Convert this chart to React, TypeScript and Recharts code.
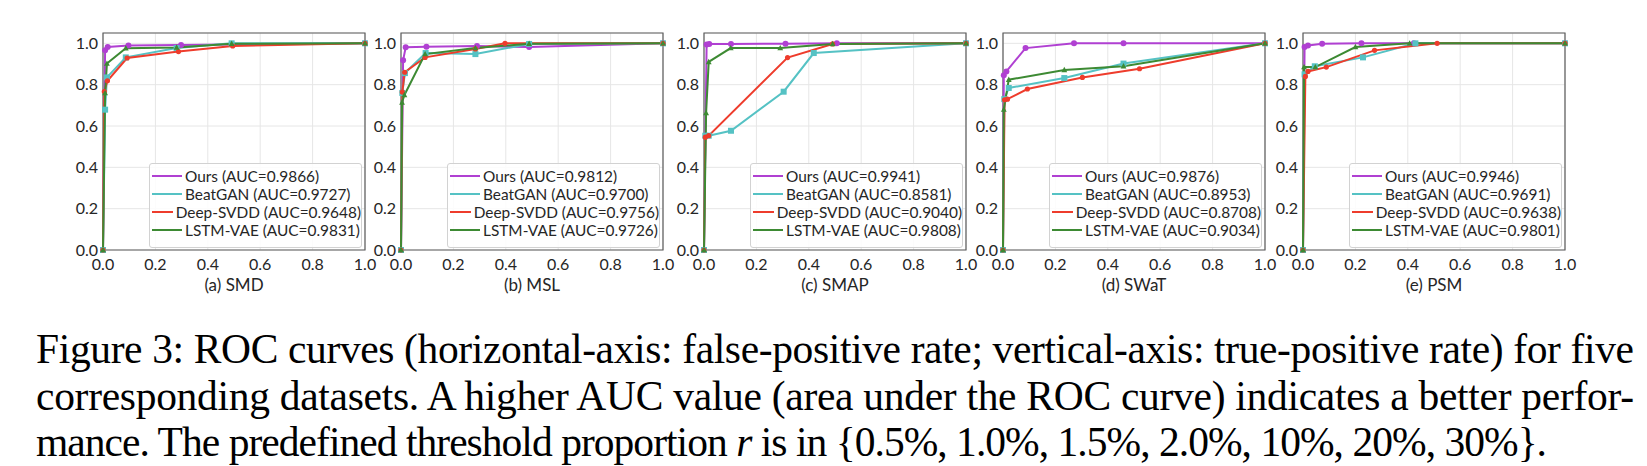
import React from 'react';
import { LineChart, Line, XAxis, YAxis, CartesianGrid, ReferenceArea, Legend } from 'recharts';

type Pt = [number, number];

const METHODS = ['Ours', 'BeatGAN', 'Deep-SVDD', 'LSTM-VAE'];
const METHOD_COLORS = ['#b040d2', '#55c2c4', '#ee3c2c', '#3d8a33'];
const DATASETS = ['(a) SMD', '(b) MSL', '(c) SMAP', '(d) SWaT', '(e) PSM'];
const X_TICKS = [0, 0.2, 0.4, 0.6, 0.8, 1.0];
const Y_TICKS = [0, 0.2, 0.4, 0.6, 0.8, 1.0];

// AUC values, in METHODS order
const AUC_SMD = [0.9866, 0.9727, 0.9648, 0.9831];
const AUC_MSL = [0.9812, 0.97, 0.9756, 0.9726];
const AUC_SMAP = [0.9941, 0.8581, 0.904, 0.9808];
const AUC_SWAT = [0.9876, 0.8953, 0.8708, 0.9034];
const AUC_PSM = [0.9946, 0.9691, 0.9638, 0.9801];

// ROC points as [false-positive rate, true-positive rate]
const SMD_OURS: Pt[] = [[0, 0], [0.008, 0.966], [0.018, 0.982], [0.097, 0.99], [0.298, 0.992], [1, 1]];
const SMD_BEATGAN: Pt[] = [[0, 0], [0.008, 0.679], [0.015, 0.835], [0.087, 0.932], [0.281, 0.977], [0.491, 1.0], [1, 1]];
const SMD_DEEPSVDD: Pt[] = [[0, 0], [0.005, 0.767], [0.017, 0.819], [0.092, 0.929], [0.288, 0.96], [0.495, 0.987], [1, 1]];
const SMD_LSTMVAE: Pt[] = [[0, 0], [0.008, 0.759], [0.015, 0.902], [0.087, 0.976], [0.281, 0.98], [0.491, 0.998], [1, 1]];

const MSL_OURS: Pt[] = [[0, 0], [0.008, 0.918], [0.018, 0.981], [0.097, 0.983], [0.29, 0.987], [0.489, 0.982], [1, 1]];
const MSL_BEATGAN: Pt[] = [[0, 0], [0.005, 0.76], [0.015, 0.856], [0.094, 0.953], [0.284, 0.948], [0.489, 0.997], [1, 1]];
const MSL_DEEPSVDD: Pt[] = [[0, 0], [0.005, 0.764], [0.014, 0.86], [0.092, 0.932], [0.284, 0.973], [0.397, 1.0], [1, 1]];
const MSL_LSTMVAE: Pt[] = [[0, 0], [0.004, 0.714], [0.013, 0.75], [0.092, 0.948], [0.284, 0.977], [0.489, 0.998], [1, 1]];

const SMAP_OURS: Pt[] = [[0, 0], [0.01, 0.994], [0.02, 0.997], [0.103, 0.997], [0.311, 0.998], [0.507, 1.0], [1, 1]];
const SMAP_BEATGAN: Pt[] = [[0, 0], [0.005, 0.553], [0.018, 0.553], [0.103, 0.577], [0.304, 0.766], [0.419, 0.953], [1, 1]];
const SMAP_DEEPSVDD: Pt[] = [[0, 0], [0.005, 0.546], [0.018, 0.553], [0.319, 0.931], [0.491, 0.997], [1, 1]];
const SMAP_LSTMVAE: Pt[] = [[0, 0], [0.008, 0.663], [0.018, 0.91], [0.102, 0.977], [0.291, 0.977], [0.491, 0.997], [1, 1]];

const SWAT_OURS: Pt[] = [[0, 0], [0.003, 0.845], [0.013, 0.864], [0.086, 0.977], [0.271, 1.0], [0.46, 1.0], [1, 1]];
const SWAT_BEATGAN: Pt[] = [[0, 0], [0.005, 0.73], [0.022, 0.784], [0.234, 0.832], [0.46, 0.902], [1, 1]];
const SWAT_DEEPSVDD: Pt[] = [[0, 0], [0.006, 0.727], [0.017, 0.73], [0.093, 0.779], [0.303, 0.835], [0.521, 0.877], [1, 1]];
const SWAT_LSTMVAE: Pt[] = [[0, 0], [0.003, 0.679], [0.022, 0.824], [0.234, 0.871], [0.46, 0.889], [1, 1]];

const PSM_OURS: Pt[] = [[0, 0], [0.006, 0.982], [0.019, 0.99], [0.073, 0.998], [0.223, 1.0], [0.423, 1.0], [1, 1]];
const PSM_BEATGAN: Pt[] = [[0, 0], [0.006, 0.85], [0.045, 0.889], [0.229, 0.932], [0.429, 1.0], [1, 1]];
const PSM_DEEPSVDD: Pt[] = [[0, 0], [0.009, 0.84], [0.019, 0.864], [0.089, 0.885], [0.273, 0.966], [0.512, 1.0], [1, 1]];
const PSM_LSTMVAE: Pt[] = [[0, 0], [0.004, 0.885], [0.047, 0.885], [0.2, 0.982], [0.407, 1.0], [1, 1]];

const PANELS = [
  { title: DATASETS[0], auc: AUC_SMD, curves: [SMD_OURS, SMD_BEATGAN, SMD_DEEPSVDD, SMD_LSTMVAE] },
  { title: DATASETS[1], auc: AUC_MSL, curves: [MSL_OURS, MSL_BEATGAN, MSL_DEEPSVDD, MSL_LSTMVAE] },
  { title: DATASETS[2], auc: AUC_SMAP, curves: [SMAP_OURS, SMAP_BEATGAN, SMAP_DEEPSVDD, SMAP_LSTMVAE] },
  { title: DATASETS[3], auc: AUC_SWAT, curves: [SWAT_OURS, SWAT_BEATGAN, SWAT_DEEPSVDD, SWAT_LSTMVAE] },
  { title: DATASETS[4], auc: AUC_PSM, curves: [PSM_OURS, PSM_BEATGAN, PSM_DEEPSVDD, PSM_LSTMVAE] },
];

const CAPTION_LINES = [
  'Figure 3: ROC curves (horizontal-axis: false-positive rate; vertical-axis: true-positive rate) for five',
  'corresponding datasets. A higher AUC value (area under the ROC curve) indicates a better perfor-',
];

// layout
const PLOT_LEFTS = [103, 401, 704, 1003, 1303];
const PLOT_W = 262;
const Y_AXIS_W = 40;
const PLOT_TOP = 33;
const PLOT_BOTTOM = 250;
const X_AXIS_H = 46;
const CHART_W = Y_AXIS_W + PLOT_W + 18;
const CHART_H = PLOT_BOTTOM + X_AXIS_H;
const FONT = 'Lato, "Open Sans", sans-serif';
const TEXT_COLOR = '#262626';

const makeDot = (m: number) => (props: any) => {
  const { cx, cy, index } = props;
  const c = METHOD_COLORS[m];
  const key = `d-${m}-${index}`;
  if (cx == null || cy == null) return <g key={key} />;
  if (m === 0) return <circle key={key} cx={cx} cy={cy} r={3} fill={c} />;
  if (m === 1) return <rect key={key} x={cx - 3} y={cy - 3} width={6} height={6} fill={c} />;
  if (m === 2) return <circle key={key} cx={cx} cy={cy} r={2.6} fill={c} />;
  return <path key={key} d={`M${cx},${cy - 3.2} L${cx + 2.9},${cy + 2.2} L${cx - 2.9},${cy + 2.2} Z`} fill={c} />;
};

const LegendBox = ({ auc }: { auc: number[] }) => (
  <div
    style={{
      boxSizing: 'border-box',
      width: 213,
      height: 85,
      border: '1px solid #d2d2d2',
      borderRadius: 3,
      background: 'rgba(255,255,255,0.85)',
      paddingTop: 3,
      fontFamily: FONT,
      fontSize: 15.4,
      color: TEXT_COLOR,
      whiteSpace: 'nowrap',
    }}
  >
    {METHODS.map((name, i) => (
      <div key={name} style={{ height: 18, display: 'flex', alignItems: 'center' }}>
        <div style={{ width: 30, height: 0, borderTop: `2px solid ${METHOD_COLORS[i]}`, marginLeft: 2, marginRight: 3 }} />
        <span>{`${name} (AUC=${auc[i].toFixed(4)})`}</span>
      </div>
    ))}
  </div>
);

const RocPanel = ({ panel, left }: { panel: (typeof PANELS)[number]; left: number }) => (
  <div style={{ position: 'absolute', left: left - Y_AXIS_W, top: 0 }}>
    <LineChart
      width={CHART_W}
      height={CHART_H}
      margin={{ top: PLOT_TOP, right: CHART_W - Y_AXIS_W - PLOT_W, bottom: 0, left: 0 }}
    >
      <CartesianGrid stroke="#e6e6e6" strokeWidth={1} />
      <XAxis
        type="number"
        dataKey="x"
        domain={[0, 1]}
        ticks={X_TICKS}
        interval={0}
        tickFormatter={(v: number) => v.toFixed(1)}
        axisLine={false}
        tickLine={false}
        tickSize={0}
        tickMargin={9}
        height={X_AXIS_H}
        tick={{ fill: TEXT_COLOR, fontSize: 16, fontFamily: FONT }}
        label={{ value: panel.title, position: 'insideBottom', offset: 5, fill: TEXT_COLOR, fontSize: 17, fontFamily: FONT }}
      />
      <YAxis
        type="number"
        domain={[0, 1.05]}
        ticks={Y_TICKS}
        interval={0}
        tickFormatter={(v: number) => v.toFixed(1)}
        axisLine={false}
        tickLine={false}
        tickSize={0}
        tickMargin={5}
        width={Y_AXIS_W}
        tick={{ fill: TEXT_COLOR, fontSize: 16, fontFamily: FONT }}
      />
      <ReferenceArea x1={0} x2={1} y1={0} y2={1.05} fill="none" stroke="#5c5c5c" strokeWidth={1.2} />
      {panel.curves.map((pts, m) => (
        <Line
          key={METHODS[m]}
          name={METHODS[m]}
          data={pts.map(([x, y]) => ({ x, y }))}
          dataKey="y"
          type="linear"
          stroke={METHOD_COLORS[m]}
          strokeWidth={2}
          dot={makeDot(m)}
          activeDot={false}
          isAnimationActive={false}
        />
      ))}
      <Legend
        layout="vertical"
        align="center"
        verticalAlign="middle"
        wrapperStyle={{ left: Y_AXIS_W + PLOT_W - 3 - 213, top: 163, width: 213, height: 85 }}
        content={() => <LegendBox auc={panel.auc} />}
      />
    </LineChart>
  </div>
);

const CAPTION_FONT = '"Liberation Serif", "Times New Roman", serif';

export default function App() {
  return (
    <div style={{ position: 'absolute', left: 0, top: 0, width: 1647, height: 466, background: '#fff', overflow: 'hidden' }}>
      {PANELS.map((p, i) => (
        <RocPanel key={p.title} panel={p} left={PLOT_LEFTS[i]} />
      ))}
      <svg width={1647} height={466} style={{ position: 'absolute', left: 0, top: 0, pointerEvents: 'none' }}>
        <g fontFamily={CAPTION_FONT} fontSize={41.5} fill="#000">
          <text x={36} y={363} textLength={1598} lengthAdjust="spacing">{CAPTION_LINES[0]}</text>
          <text x={36} y={409.5} textLength={1598} lengthAdjust="spacing">{CAPTION_LINES[1]}</text>
          <text x={36} y={456} textLength={1511} lengthAdjust="spacing">
            mance. The predefined threshold proportion <tspan fontStyle="italic">r</tspan> is in {'{'}0.5%, 1.0%, 1.5%, 2.0%, 10%, 20%, 30%{'}'}.
          </text>
        </g>
      </svg>
    </div>
  );
}
